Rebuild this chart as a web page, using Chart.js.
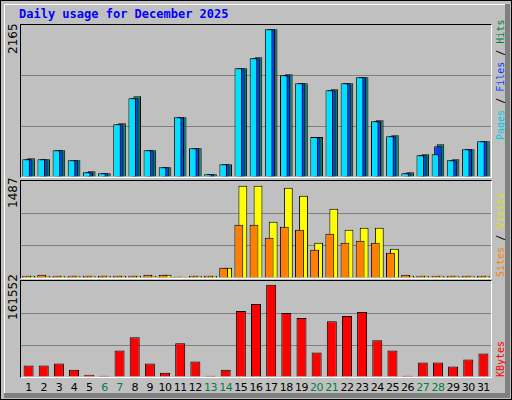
<!DOCTYPE html>
<html><head><meta charset="utf-8">
<script src="https://cdn.jsdelivr.net/npm/chart.js@4/dist/chart.umd.min.js"></script>
<style>
body{margin:0;width:512px;height:400px;overflow:hidden;background:#c0c0c0;font-family:"DejaVu Sans",sans-serif}
#frame{position:absolute;left:0;top:0;width:510px;height:398px;border:1px solid #000;background:#c0c0c0}
#shadeR{position:absolute;left:505px;top:4px;width:5px;height:394px;background:#808080}
#shadeB{position:absolute;left:4px;top:393px;width:506px;height:5px;background:#808080}
#hl{position:absolute;left:4px;top:4px;width:500px;height:388px;border-left:1px solid #fff;border-top:1px solid #fff}
.panel{position:absolute;left:20px;width:470px;border-top:1px solid #000;border-left:1px solid #000;border-right:1px solid #fff;border-bottom:1px solid #fff}
.panel canvas{position:absolute;left:0;top:0}
.t{position:absolute;white-space:nowrap}
.rot{position:absolute;transform-origin:0 0;transform:rotate(-90deg);white-space:nowrap;font-size:12px;line-height:14px}
.mono{font-family:"DejaVu Sans Mono",monospace}
.rl{font-size:10px;line-height:12px}
.day{position:absolute;top:381px;font-size:11px;width:16px;text-align:center;font-family:"DejaVu Sans",sans-serif;letter-spacing:-0.5px}
</style></head><body>
<div id="frame"></div><div id="hl"></div><div id="shadeR"></div><div id="shadeB"></div>
<div class="t mono" style="left:19px;top:7px;color:#0000ff;font-weight:bold;font-size:12px">Daily usage for December 2025</div>
<div class="panel" style="top:24px;height:152px"><canvas id="c1" width="470" height="152"></canvas></div>
<div class="panel" style="top:180px;height:97px"><canvas id="c2" width="470" height="97"></canvas></div>
<div class="panel" style="top:280px;height:96px"><canvas id="c3" width="470" height="96"></canvas></div>
<div class="rot" style="left:6px;top:54px">2165</div>
<div class="rot" style="left:6px;top:208px">1487</div>
<div class="rot" style="left:6px;top:320px">161552</div>
<div class="rot mono rl" style="left:495px;top:140px"><span style="color:#00c8e0">Pages</span> / <span style="color:#0040ff">Files</span> / <span style="color:#008040">Hits</span></div>
<div class="rot mono rl" style="left:495px;top:277px"><span style="color:#ff8000">Sites</span> / <span style="color:#e0e000">Visits</span></div>
<div class="rot mono rl" style="left:495px;top:377px;color:#ff0000">KBytes</div>
<div id="days"></div>
<script>
const days = Array.from({length:31},(_,i)=>String(i+1));
const weekend = [6,7,13,14,20,21,27,28];
const hits  = [274,260,392,245,84,54,788,1184,392,142,876,421,40,186,1595,1756,2167,1507,1375,587,1287,1375,1463,832,612,69,333,480,260,406,524];
const files = [260,260,392,245,70,54,774,1155,392,142,876,421,40,186,1595,1741,2167,1492,1375,587,1272,1375,1463,818,598,55,318,450,245,406,524];
const pages = [260,260,392,245,70,54,774,1155,392,142,876,421,40,186,1595,1741,2167,1492,1375,587,1272,1375,1463,818,598,55,318,333,245,406,524];
const visits= [36,36,36,36,36,36,36,36,36,51,20,36,36,160,1430,1430,872,1399,1275,547,1073,748,779,779,454,36,36,36,36,36,36];
const sites = [36,51,36,36,36,36,36,36,51,51,20,36,36,160,826,826,624,795,748,438,686,547,578,547,392,51,36,36,36,36,36];
const kbytes= [19200,19200,22600,12400,3900,2200,44700,66800,22600,7300,56600,26000,2200,12400,111000,122900,155200,107600,99100,41300,94000,102500,109300,61700,44700,2200,24300,24300,17500,29400,39600];

const dEl=document.getElementById('days');
days.forEach((d,i)=>{const e=document.createElement('div');e.className='day';e.textContent=d;
 e.style.left=(21+15.16*(i+0.5)-8)+'px';e.style.color=weekend.includes(i+1)?'#008040':'#000';dEl.appendChild(e);});

function mk(id,max,datasets,cp,bp){
 const n=datasets.length;
 new Chart(document.getElementById(id),{type:'bar',
  data:{labels:days,datasets:datasets.map((d,k)=>({data:d.data,order:n-k,backgroundColor:d.c,borderColor:'#000',borderWidth:1,borderSkipped:'bottom',barPercentage:bp,categoryPercentage:cp}))},
  options:{responsive:false,animation:false,events:[],layout:{padding:0},
   plugins:{legend:{display:false},tooltip:{enabled:false}},
   scales:{x:{display:false,offset:true},
     y:{display:true,min:0,max:max,ticks:{display:false,stepSize:max/3},border:{display:false},
        grid:{drawTicks:false,color:c=>(c.index===1||c.index===2)?'#808080':'rgba(0,0,0,0)',lineWidth:1}}}}});
}
mk('c1',2230,[{data:hits,c:'#008060'},{data:files,c:'#0040ff'},{data:pages,c:'#00e0ff'}],0.5,3.0);
mk('c2',1487*97/96,[{data:visits,c:'#ffff00'},{data:sites,c:'#ff8000'}],0.53,2.2);
mk('c3',161552,[{data:kbytes,c:'#ff0000'}],0.66,1);
</script></body></html>
